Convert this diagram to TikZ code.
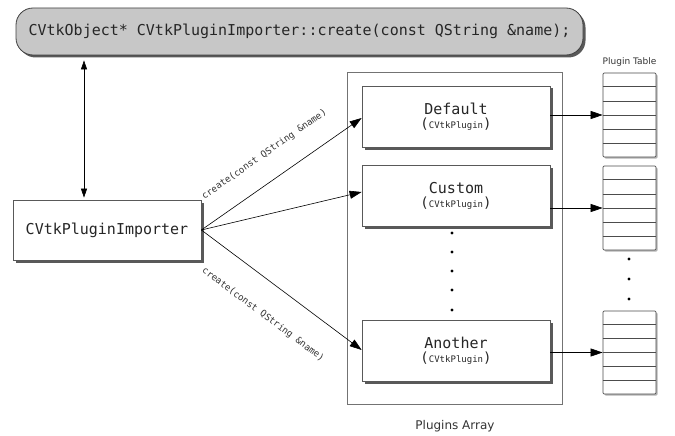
\documentclass[tikz,border=0pt]{standalone}
\usepackage{fontspec}
\setmainfont{DejaVu Sans}
\setmonofont{DejaVu Sans Mono}
\usetikzlibrary{shadows,arrows.meta,calc}
\begin{document}
\begin{tikzpicture}[x=1pt,y=-1pt,
  shd/.style={drop shadow={shadow xshift=2.5pt,shadow yshift=-2.5pt,fill=black!65,opacity=1}},
  lshd/.style={drop shadow={shadow xshift=1.5pt,shadow yshift=-1.5pt,fill=black!30,opacity=1}},
  topbox/.style={draw=black!75,line width=0.8pt,fill=black!22,rounded corners=17pt,
    minimum width=567pt,minimum height=47pt,inner sep=0pt,shd,
    font=\ttfamily\fontsize{15}{18}\selectfont,text=black!85},
  plainbox/.style={draw=black!65,line width=0.7pt,fill=white,minimum width=188pt,
    minimum height=61pt,inner sep=0pt,shd,align=center,text=black!85},
  tbl/.style={draw=black!70,line width=0.7pt,fill=white,minimum width=53pt,
    minimum height=84pt,inner sep=0pt,rounded corners=1.2pt,lshd},
  arr/.style={line width=0.6pt,-{Triangle[length=12pt,width=8pt]}},
  dbl/.style={line width=0.6pt,{Triangle[length=9pt,width=6pt]}-{Triangle[length=9pt,width=6pt]}},
  lbl/.style={font=\ttfamily\fontsize{9.2}{10}\selectfont,text=black!80,inner sep=0pt},
  dotm/.style={circle,fill=black,inner sep=0pt,minimum size=3.2pt}
]
\useasboundingbox (0,0) rectangle (675,436);

% outer array box
\node[draw=black!55,line width=0.7pt,minimum width=215pt,minimum height=332pt,
  inner sep=0pt,drop shadow={shadow xshift=1pt,shadow yshift=-1pt,fill=black!15,opacity=1},fill=white]
  (arrbox) at (454.5,238) {};
\node[font=\fontsize{12}{14}\selectfont,text=black!80] (arrlbl) at (455,426) {Plugins Array};

% top box
\node[topbox] (top) at (299.5,31.5) {CVtkObject* CVtkPluginImporter::create(const QString \&name);};

% importer
\node[plainbox,minimum height=60pt,font=\ttfamily\fontsize{15}{18}\selectfont] (imp) at (107,230) {CVtkPluginImporter};

% plugin boxes
\newcommand{\plg}[1]{{\ttfamily\fontsize{15}{17}\selectfont #1}\\[2pt]
  {\ttfamily\fontsize{14}{16}\selectfont(\fontsize{9}{10}\selectfont CVtkPlugin\fontsize{14}{16}\selectfont)}}
\node[plainbox] (def) at (456,116.5) {\plg{Default}};
\node[plainbox] (cust) at (456,196) {\plg{Custom}};
\node[plainbox] (anoth) at (456,351) {\plg{Another}};

% dots in array
\foreach \yy [count=\i] in {233,252,271,290,310} \node[dotm] (ad\i) at (452,\yy) {};

% tables
\node[font=\fontsize{9}{10}\selectfont,text=black!80] (tbllbl) at (629.5,62) {Plugin Table};
\node[tbl] (t1) at (629.5,115) {};
\node[tbl] (t2) at (629.5,208) {};
\node[tbl,minimum height=83pt] (t3) at (629.5,352.5) {};
\foreach \t in {t1,t2,t3}{
  \foreach \k in {1,...,5}{
    \draw[black!70,line width=0.7pt] ($(\t.north west)!\k/6!(\t.south west)$) -- ($(\t.north east)!\k/6!(\t.south east)$);
  }
}
\foreach \yy [count=\i] in {259,279,299} \node[dotm] (td\i) at (629,\yy) {};

% connectors
\coordinate (ax) at (84,0);
\draw[dbl,shorten <=5pt,shorten >=2pt] (ax |- top.south) -- (ax |- imp.north);

\draw[arr] (imp.east) -- node[lbl,sloped,pos=0.485,above=21pt] (l1) {create(const QString \&name)} ($(def.west)+(0,1.5)$);
\draw[arr] (imp.east) -- ($(cust.west)+(0,-4)$);
\draw[arr] (imp.east) -- node[lbl,sloped,pos=0.5,below=26pt] (l2) {create(const QString \&name)} ($(anoth.west)+(0,-1)$);

\draw[arr] (t1.west -| def.east) -- (t1.west);
\draw[arr] (t2.west -| cust.east) -- (t2.west);
\draw[arr] (t3.west -| anoth.east) -- (t3.west);
\end{tikzpicture}
\end{document}
